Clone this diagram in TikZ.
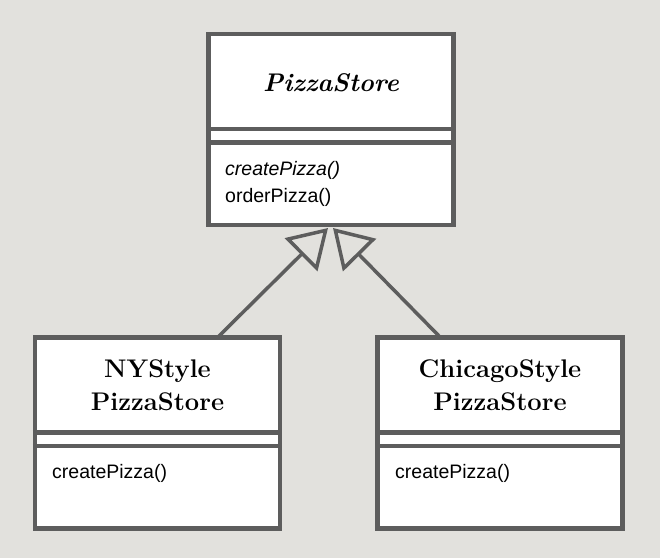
\documentclass[tikz,border=0pt]{standalone}
\usepackage{fontspec}
\newfontfamily\methfont{Liberation Sans}
\usetikzlibrary{arrows.meta}
\definecolor{bgcol}{RGB}{226,225,221}
\definecolor{linecol}{RGB}{93,93,93}
\tikzset{
  classbox/.style={draw=linecol, line width=4.5pt, fill=white, rectangle,
    minimum width=245pt, minimum height=191pt, inner sep=0pt},
  sepline/.style={draw=linecol, line width=4.5pt},
  classname/.style={font=\fontsize{25.5}{33}\selectfont\bfseries, anchor=base, inner sep=0pt, align=center},
  method/.style={font=\methfont\fontsize{19.5}{27}\selectfont, anchor=base west, inner sep=0pt},
  inherit/.style={draw=linecol, line width=3.5pt,
    -{Triangle[open, length=38pt, width=46pt, line width=3.5pt]}}
}
\begin{document}
\begin{tikzpicture}[x=1pt,y=-1pt]
\fill[bgcol] (0,0) rectangle (660,558);
\useasboundingbox (0,0) rectangle (660,558);
% top class
\node[classbox] (store) at (331,129.5) {};
\draw[sepline] (store.west |- 0,129) -- (store.east |- 0,129);
\draw[sepline] (store.west |- 0,142.5) -- (store.east |- 0,142.5);
\node[classname] (storename) at (331,91) {\itshape PizzaStore};
\node[method] (m1) at (225,175) {\itshape createPizza()};
\node[method] (m2) at (225,202) {orderPizza()};
% NY class
\node[classbox] (ny) at (157.5,433) {};
\draw[sepline] (ny.west |- 0,432.5) -- (ny.east |- 0,432.5);
\draw[sepline] (ny.west |- 0,446) -- (ny.east |- 0,446);
\node[classname] (nyname) at (157.5,410) {NYStyle\\PizzaStore};
\node[method] (nym) at (52,478) {createPizza()};
% Chicago class
\node[classbox] (chi) at (500,433) {};
\draw[sepline] (chi.west |- 0,432.5) -- (chi.east |- 0,432.5);
\draw[sepline] (chi.west |- 0,446) -- (chi.east |- 0,446);
\node[classname] (chiname) at (500,410) {ChicagoStyle\\PizzaStore};
\node[method] (chim) at (395,478) {createPizza()};
% inheritance
\coordinate (sL) at (218,337);
\coordinate (sR) at (440,337);
\coordinate (tL) at (328,228);
\coordinate (tR) at (333,228);
\draw[inherit] (sL) -- (tL);
\draw[inherit] (sR) -- (tR);
\end{tikzpicture}
\end{document}
